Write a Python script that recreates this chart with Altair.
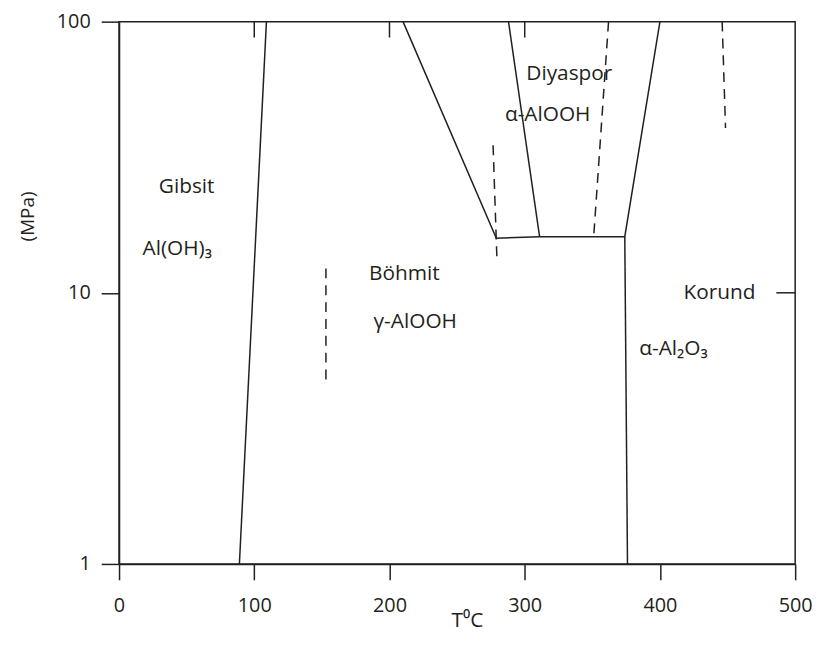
import altair as alt
import pandas as pd

# Solid phase boundaries (T in °C, P in MPa)
line_id = ["A", "A", "B", "B", "B", "B", "B", "C", "C", "D", "D"]
line_t = [89, 109, 210, 279, 311, 374, 400, 288, 311, 374, 376]
line_p = [1, 100, 100, 15.9, 16.1, 16.1, 100, 100, 16.1, 16.1, 1]

# Dashed boundaries
dash_id = ["E", "E", "F", "F", "G", "G", "H", "H"]
dash_t = [153, 153, 276.6, 279.5, 362, 351, 446, 448.5]
dash_p = [12.3, 4.6, 35, 13.1, 100, 16.1, 100, 40.5]

# Phase labels
lab_text = ["Gibsit", "Al(OH)₃", "Böhmit", "γ-AlOOH", "Diyaspor", "α-AlOOH", "Korund", "α-Al₂O₃"]
lab_t = [50, 43, 211, 219, 333, 317, 444, 410]
lab_p = [24.5, 14.5, 11.7, 7.8, 64.3, 45.3, 10, 6.2]

# Axis ticks
x_ticks = [0, 100, 200, 300, 400, 500]
y_ticks = [1, 10, 100]
top_ticks = [100, 200, 300]
right_ticks = [10]

W, H = 682, 547
INK = "#231f20"
FONT = "Open Sans"

solid = pd.DataFrame({"id": line_id, "t": line_t, "p": line_p, "o": list(range(len(line_id)))})
dashed = pd.DataFrame({"id": dash_id, "t": dash_t, "p": dash_p, "o": list(range(len(dash_id)))})
labels = pd.DataFrame({"text": lab_text, "t": lab_t, "p": lab_p})
tt = pd.DataFrame({"t": top_ticks})
rt = pd.DataFrame({"p": right_ticks})

xs = alt.Scale(domain=[0, 500], nice=False, zero=False)
ys = alt.Scale(type="log", domain=[1, 100], nice=False)

xax = alt.Axis(values=x_ticks, tickSize=16, labelPadding=16, labelFontSize=20, labelFont=FONT,
               labelColor=INK, labelFlush=False, grid=False, domainColor=INK, tickColor=INK,
               domainWidth=1.5, tickWidth=1.5, title="T⁰C", titleFont=FONT, titleFontSize=21,
               titleFontWeight="normal", titleColor=INK, titleX=351, titleY=57,
               titleBaseline="middle")
yax = alt.Axis(values=y_ticks, format="d", tickSize=18, labelPadding=11, labelFontSize=20, labelFont=FONT,
               labelColor=INK, labelFlush=False, grid=False, domainColor=INK, tickColor=INK,
               domainWidth=1.5, tickWidth=1.5, title="(MPa)", titleFont=FONT, titleFontSize=19,
               titleFontWeight="normal", titleColor=INK, titleX=-92, titleY=196, titleAngle=270,
               titleAlign="center", titleBaseline="middle")

base_x = alt.X("t:Q", scale=xs, axis=xax)
base_y = alt.Y("p:Q", scale=ys, axis=yax)

solid_layer = alt.Chart(solid).mark_line(color=INK, strokeWidth=1.5).encode(
    x=base_x, y=base_y, detail="id:N", order="o:Q")
dash_layer = alt.Chart(dashed).mark_line(color=INK, strokeWidth=1.5, strokeDash=[10, 7]).encode(
    x="t:Q", y="p:Q", detail="id:N", order="o:Q")
text_layer = alt.Chart(labels).mark_text(font=FONT, fontSize=21, color=INK, align="center",
                                         baseline="middle").encode(
    x="t:Q", y="p:Q", text="text:N")
top_tick_layer = alt.Chart(tt).mark_rule(color=INK, strokeWidth=1.5).encode(
    x="t:Q", y=alt.value(0), y2=alt.value(16))
right_tick_layer = alt.Chart(rt).mark_rule(color=INK, strokeWidth=1.5).encode(
    y="p:Q", x=alt.value(W - 19), x2=alt.value(W))

chart = alt.layer(solid_layer, dash_layer, text_layer, top_tick_layer, right_tick_layer).properties(
    width=W, height=H,
    autosize=alt.AutoSizeParams(type="none"),
    padding={"left": 112, "top": 11, "right": 20, "bottom": 80},
    background="white",
).configure_view(stroke=INK, strokeWidth=1.5)

chart.save("out.html", embed_options={"renderer": "svg", "actions": False})
